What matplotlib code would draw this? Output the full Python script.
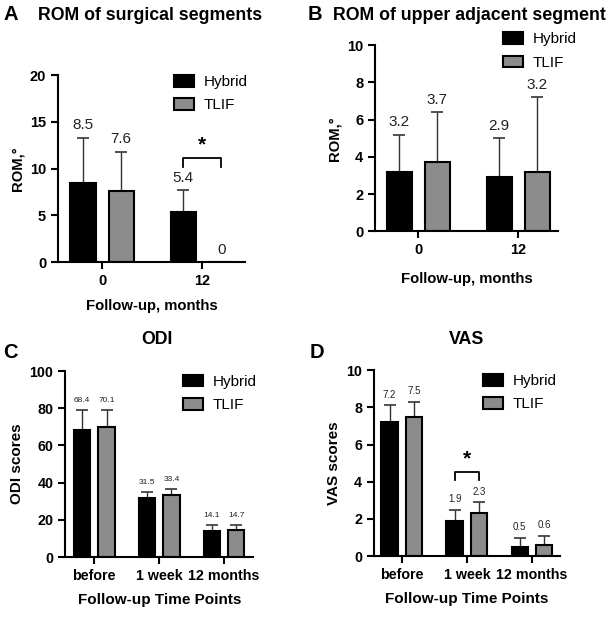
import matplotlib.pyplot as plt
import numpy as np

plt.rcParams['font.family'] = ['Liberation Sans', 'DejaVu Sans']

# panel A - ROM of surgical segments
a_cats = ['0', '12']
a_hybrid = [8.5, 5.4]
a_hybrid_sd = [4.8, 2.3]
a_tlif = [7.6, 0]
a_tlif_sd = [4.2, 0]

# panel B - ROM of upper adjacent segment
b_cats = ['0', '12']
b_hybrid = [3.2, 2.9]
b_hybrid_sd = [2.0, 2.1]
b_tlif = [3.7, 3.2]
b_tlif_sd = [2.7, 4.0]

# panel C - ODI
c_cats = ['before', '1 week', '12 months']
c_hybrid = [68.4, 31.5, 14.1]
c_hybrid_sd = [10.8, 3.6, 3.2]
c_tlif = [70.1, 33.4, 14.7]
c_tlif_sd = [9.0, 3.4, 2.7]

# panel D - VAS
d_cats = ['before', '1 week', '12 months']
d_hybrid = [7.2, 1.9, 0.5]
d_hybrid_sd = [0.9, 0.6, 0.5]
d_tlif = [7.5, 2.3, 0.6]
d_tlif_sd = [0.8, 0.6, 0.5]

GREY = '#8c8c8c'
W = 0.25
OFF = 0.19


def panel(ax, cats, hyb, hyb_sd, tlif, tlif_sd, ylim, yticks, xlim,
          ylabel, xlabel, vfs, fmt, tfs, lfs, labelpad):
    x = np.arange(len(cats))
    for pos, vals, sd, col in [(x - OFF, hyb, hyb_sd, 'black'),
                               (x + OFF, tlif, tlif_sd, GREY)]:
        ax.bar(pos, vals, W, color=col, edgecolor='black', linewidth=1.5,
               zorder=2)
        ax.errorbar(pos, vals, yerr=[np.zeros(len(sd)), sd], fmt='none',
                    ecolor='#333333', elinewidth=1, capsize=4.5,
                    capthick=1.2, zorder=1)
        for p, v, s in zip(pos, vals, sd):
            ax.annotate(fmt.format(v), (p, v + s), xytext=(0, 4),
                        textcoords='offset points', ha='center', va='bottom',
                        fontsize=vfs, color='#222222')
    ax.set_ylim(*ylim)
    ax.set_yticks(yticks)
    ax.set_xlim(*xlim)
    ax.set_xticks(x)
    ax.set_xticklabels(cats)
    for s in ['top', 'right']:
        ax.spines[s].set_visible(False)
    for s in ['left', 'bottom']:
        ax.spines[s].set_linewidth(1.5)
    ax.tick_params(width=1.5, length=5, labelsize=tfs)
    for lab in ax.get_xticklabels() + ax.get_yticklabels():
        lab.set_fontweight('bold')
    ax.set_ylabel(ylabel, fontsize=lfs, fontweight='bold')
    ax.set_xlabel(xlabel, fontsize=lfs, fontweight='bold', labelpad=labelpad)
    return x


def legend(ax, bx, by):
    h = [plt.Rectangle((0, 0), 1, 1, facecolor='black', edgecolor='black', lw=1.5),
         plt.Rectangle((0, 0), 1, 1, facecolor=GREY, edgecolor='black', lw=1.5)]
    ax.legend(h, ['Hybrid', 'TLIF'], loc='upper left', bbox_to_anchor=(bx, by),
              frameon=False, fontsize=11, handlelength=1.3, handleheight=0.8,
              handletextpad=0.65, labelspacing=0.6, borderpad=0,
              borderaxespad=0)


def bracket(ax, xc, y, drop):
    ax.plot([xc - OFF, xc - OFF, xc + OFF, xc + OFF],
            [y - drop, y, y, y - drop], color='black', lw=1.3)
    ax.text(xc, y + drop * 0.5, '*', ha='center', va='bottom',
            fontsize=15, fontweight='bold')


fig = plt.figure(figsize=(6.1, 6.2), dpi=100)

axA = fig.add_axes([0.095, 0.577, 0.307, 0.302])
xa = panel(axA, a_cats, a_hybrid, a_hybrid_sd, a_tlif, a_tlif_sd,
           (0, 20), [0, 5, 10, 15, 20], (-0.44, 1.43),
           'ROM,°', 'Follow-up, months', 11, '{:g}', 10.5, 10.7, 8)
legend(axA, 0.62, 1.0)
bracket(axA, xa[1], 11.1, 0.9)

axB = fig.add_axes([0.615, 0.627, 0.300, 0.300])
panel(axB, b_cats, b_hybrid, b_hybrid_sd, b_tlif, b_tlif_sd,
      (0, 10), [0, 2, 4, 6, 8, 10], (-0.43, 1.40),
      'ROM,°', 'Follow-up, months', 11, '{:g}', 10.5, 10.7, 11)
legend(axB, 0.70, 1.07)

axC = fig.add_axes([0.107, 0.1016, 0.308, 0.300])
panel(axC, c_cats, c_hybrid, c_hybrid_sd, c_tlif, c_tlif_sd,
      (0, 100), [0, 20, 40, 60, 80, 100], (-0.446, 2.45),
      'ODI scores', 'Follow-up Time Points', 6, '{:g}', 10.3, 11, 7)
legend(axC, 0.628, 0.98)

axD = fig.add_axes([0.613, 0.103, 0.305, 0.300])
xd = panel(axD, d_cats, d_hybrid, d_hybrid_sd, d_tlif, d_tlif_sd,
           (0, 10), [0, 2, 4, 6, 8, 10], (-0.43, 2.43),
           'VAS scores', 'Follow-up Time Points', 7, '{:g}', 10.3, 11, 7)
legend(axD, 0.586, 0.98)
bracket(axD, xd[1], 4.5, 0.4)

# panel letters and titles
fig.text(3 / 610, 1 - 15 / 620, 'A', fontsize=14.5, fontweight='bold', va='center')
fig.text(38 / 610, 1 - 15 / 620, 'ROM of surgical segments', fontsize=12.8,
         fontweight='bold', va='center')
fig.text(308 / 610, 1 - 15 / 620, 'B', fontsize=14.5, fontweight='bold', va='center')
fig.text(333 / 610, 1 - 15 / 620, 'ROM of upper adjacent segment', fontsize=12.8,
         fontweight='bold', va='center')
fig.text(3 / 610, 1 - 353 / 620, 'C', fontsize=14.5, fontweight='bold', va='center')
fig.text(157 / 610, 1 - 340 / 620, 'ODI', fontsize=12.8, fontweight='bold',
         va='center', ha='center')
fig.text(310 / 610, 1 - 353 / 620, 'D', fontsize=14.5, fontweight='bold', va='center')
fig.text(467 / 610, 1 - 340 / 620, 'VAS', fontsize=12.8, fontweight='bold',
         va='center', ha='center')

fig.savefig('out.png', dpi=100)
